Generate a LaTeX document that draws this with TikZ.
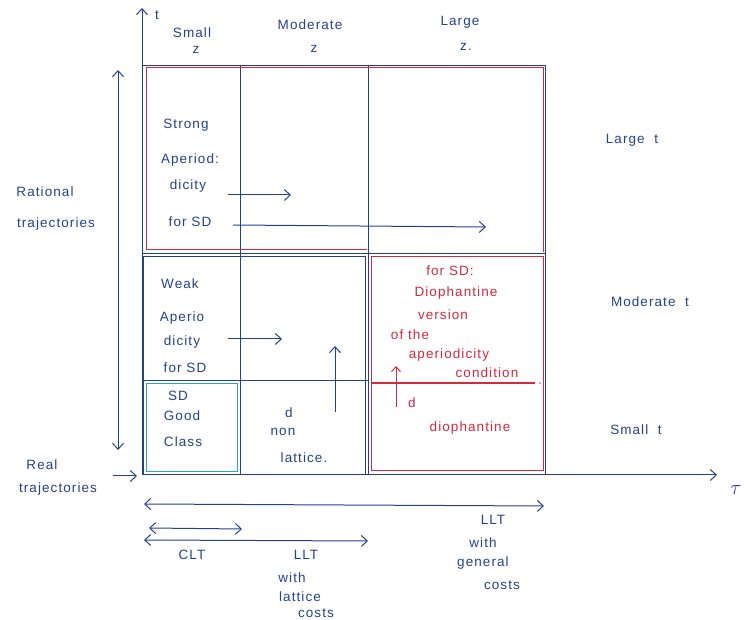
\documentclass[tikz,border=0pt]{standalone}
\usepackage{fontspec}
\setmainfont{Liberation Sans}[LetterSpace=8]
\usetikzlibrary{arrows.meta}
\definecolor{ink}{RGB}{35,65,145}
\definecolor{rink}{RGB}{215,40,60}
\definecolor{teal2}{RGB}{40,170,170}
\tikzset{
  txt/.style={text=ink, font=\fontsize{13.5}{14}\selectfont, inner sep=1pt},
  rtxt/.style={text=rink, font=\fontsize{13.5}{14}\selectfont, inner sep=1pt},
  ar/.style={draw=ink, line width=1pt, -{Straight Barb[length=6pt,width=11pt]}},
  dar/.style={draw=ink, line width=1pt, {Straight Barb[length=6pt,width=11pt]}-{Straight Barb[length=6pt,width=11pt]}},
  rar/.style={draw=rink, line width=1pt, -{Straight Barb[length=5pt,width=9pt]}},
  grid/.style={draw=ink, line width=0.9pt},
  redline/.style={draw=rink, line width=1pt},
}
\begin{document}
\begin{tikzpicture}[x=1pt,y=-1pt]
\useasboundingbox (0,0) rectangle (748,620);
% axes
\coordinate (O) at (142,475);
\coordinate (tTop) at (142,8);
\coordinate (xEnd) at (717,475);
\draw[ar] (O) -- (tTop);
\draw[ar] (O) -- (xEnd);
\node[txt] (tlab) at (157,15) {t};
\node[txt, font=\fontsize{20}{20}\selectfont] (taulab) at (736,490) {$\tau$};
% grid
\draw[grid] (142,65) -- (545,65) -- (545,475);
\draw[grid] (240,65) -- (240,475);
\draw[grid] (368,65) -- (368,475);
\draw[grid] (142,253) -- (545,253);
\draw[grid] (142,380) -- (368,380);
\draw[grid] (143,256) rectangle (365,474);
\draw[draw=teal2, line width=1pt] (146,384) rectangle (237,472);
% red regions
\draw[redline] (146,68) -- (543,68) -- (543,252) (146,68) -- (146,250) -- (367,250);
\draw[redline] (371,257) rectangle (543,471);
% red line in right box
\draw[draw=rink, line width=1.1pt] (372,383) -- (535,383);
\fill[black!60] (540,383) circle (0.8);
\coordinate (ra1) at (396,407);
\coordinate (ra2) at (396,366);
\draw[rar] (ra1) -- (ra2);
% top labels
\node[txt] (sz1) at (192,33) {Small};
\node[txt] (sz2) at (196,50) {z};
\node[txt] (mz1) at (310,25) {Moderate};
\node[txt] (mz2) at (314,49) {z};
\node[txt] (lz1) at (460,22) {Large};
\node[txt] (lz2) at (466,47) {z.};
% right labels
\node[txt] (lt) at (632,140) {Large\ \ t};
\node[txt] (mt) at (650,302) {Moderate\ \ t};
\node[txt] (st) at (636,430) {Small\ \ t};
% left
\coordinate (va1) at (118,450);
\coordinate (va2) at (118,70);
\draw[dar] (va1) -- (va2);
\node[txt] (rat1) at (45,192) {Rational};
\node[txt] (rat2) at (56,224) {trajectories};
\node[txt] (real1) at (42,465) {Real};
\node[txt] (real2) at (58,489) {trajectories};
\coordinate (ra3) at (113,476);
\coordinate (ra4) at (137,476);
\draw[ar] (ra3) -- (ra4);
% strong
\node[txt] (s1) at (186,125) {Strong};
\node[txt] (s2) at (190,160) {Aperiod:};
\node[txt] (s3) at (188,186) {dicity};
\node[txt] (s4) at (190,222) {for SD};
\coordinate (sa1) at (228,195);
\coordinate (sa2) at (291,195);
\draw[ar] (sa1) -- (sa2);
\coordinate (sb1) at (233,225);
\coordinate (sb2) at (486,227);
\draw[ar] (sb1) -- (sb2);
% weak
\node[txt] (w1) at (180,284) {Weak};
\node[txt] (w2) at (182,318) {Aperio};
\node[txt] (w3) at (182,342) {dicity};
\node[txt] (w4) at (185,368) {for SD};
\coordinate (wa1) at (228,339);
\coordinate (wa2) at (282,339);
\draw[ar] (wa1) -- (wa2);
\coordinate (ua1) at (335,412);
\coordinate (ua2) at (335,346);
\draw[ar] (ua1) -- (ua2);
% SD good class
\node[txt] (g1) at (178,396) {SD};
\node[txt] (g2) at (182,416) {Good};
\node[txt] (g3) at (183,442) {Class};
% d non lattice
\node[txt] (n1) at (289,413) {d};
\node[txt] (n2) at (283,432) {non};
\node[txt] (n3) at (304,458) {lattice.};
% red text
\node[rtxt] (r1) at (450,271) {for SD:};
\node[rtxt] (r2) at (456,293) {Diophantine};
\node[rtxt] (r3) at (443,315) {version};
\node[rtxt] (r4) at (410,335) {of the};
\node[rtxt] (r5) at (449,355) {aperiodicity};
\node[rtxt] (r6) at (487,373) {condition};
\node[rtxt] (r7) at (412,403) {d};
\node[rtxt] (r8) at (470,428) {diophantine};
% bottom arrows
\coordinate (b1) at (144,504);
\coordinate (b2) at (544,506);
\draw[dar] (b1) -- (b2);
\coordinate (b3) at (149,528);
\coordinate (b4) at (242,529);
\draw[dar] (b3) -- (b4);
\coordinate (b5) at (144,540);
\coordinate (b6) at (368,541);
\draw[dar] (b5) -- (b6);
\node[txt] (clt) at (192,555) {CLT};
\node[txt] (l1) at (306,555) {LLT};
\node[txt] (l2) at (292,578) {with};
\node[txt] (l3) at (300,597) {lattice};
\node[txt] (l4) at (316,613) {costs};
\node[txt] (g4) at (493,520) {LLT};
\node[txt] (g5) at (483,543) {with};
\node[txt] (g6) at (483,563) {general};
\node[txt] (g7) at (502,585) {costs};
\end{tikzpicture}
\end{document}
